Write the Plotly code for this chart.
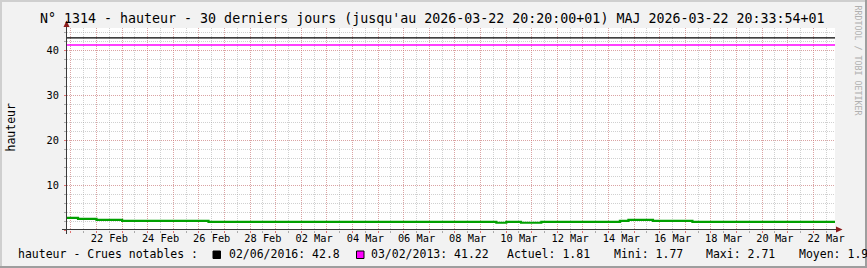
import plotly.graph_objects as go
import pandas as pd

# ---------------- data ----------------
start_time = "2026-02-20 20:20"
end_time = "2026-03-22 20:20"

# water height (hauteur), step changes
times = ["2026-02-20 20:20", "2026-02-21 06:40", "2026-02-22 00:00", "2026-02-23 00:00",
         "2026-02-26 09:00", "2026-03-09 14:50", "2026-03-10 00:10", "2026-03-10 14:00",
         "2026-03-11 09:00", "2026-03-14 10:40", "2026-03-14 18:40", "2026-03-15 17:40",
         "2026-03-17 06:40", "2026-03-22 20:20"]
hauteur = [2.71, 2.48, 2.25, 2.03, 1.81, 1.62, 1.81, 1.62, 1.81, 2.03, 2.25, 2.03, 1.81, 1.81]

crue_2016 = 42.8
crue_2013 = 41.22
actuel, mini, maxi, moyen = "1.81", "1.77", "2.71", "1.9"

label_dates = ["2026-02-22", "2026-02-24", "2026-02-26", "2026-02-28", "2026-03-02",
               "2026-03-04", "2026-03-06", "2026-03-08", "2026-03-10", "2026-03-12",
               "2026-03-14", "2026-03-16", "2026-03-18", "2026-03-20", "2026-03-22"]
label_text = ["22 Feb", "24 Feb", "26 Feb", "28 Feb", "02 Mar", "04 Mar", "06 Mar", "08 Mar",
              "10 Mar", "12 Mar", "14 Mar", "16 Mar", "18 Mar", "20 Mar", "22 Mar"]
y_ticks = [0, 10, 20, 30, 40]
y_ticktext = ["", "10", "20", "30", "40"]

title = "N° 1314 - hauteur - 30 derniers jours (jusqu'au 2026-03-22 20:20:00+01) MAJ 2026-03-22 20:33:54+01"

# ---------------- layout geometry ----------------
FW, FH = 867, 268
L, R, T, B = 67, 835, 28, 230
def px(x):
    return (x - L) / (R - L)
def py(y):
    return (B - y) / (B - T)

MONO = "DejaVu Sans Mono"
grid_days = pd.date_range("2026-02-21", "2026-03-22", freq="D")
label_pos = [pd.Timestamp(d) + pd.Timedelta(hours=12) for d in label_dates]

fig = go.Figure()
fig.add_trace(go.Scatter(x=[start_time, end_time], y=[crue_2016, crue_2016], mode="lines",
                         line=dict(color="#000000", width=1.3), hoverinfo="skip", showlegend=False))
fig.add_trace(go.Scatter(x=[start_time, end_time], y=[crue_2013, crue_2013], mode="lines",
                         line=dict(color="#ff00ff", width=1.5), hoverinfo="skip", showlegend=False))
fig.add_trace(go.Scatter(x=times, y=hauteur, mode="lines", line_shape="hv",
                         line=dict(color="#00a000", width=2.2), showlegend=False))
# carrier trace for the label axis
fig.add_trace(go.Scatter(x=[start_time, end_time], y=[None, None], xaxis="x2", mode="lines",
                         line=dict(width=0), hoverinfo="skip", showlegend=False))

grid_minor = "rgba(150,150,150,0.45)"
grid_major = "rgba(230,100,100,0.42)"

fig.update_layout(
    width=FW, height=FH,
    margin=dict(l=L, r=FW - R, t=T, b=FH - B),
    paper_bgcolor="#f2f2f2", plot_bgcolor="#ffffff",
    showlegend=False,
    xaxis=dict(type="date", range=[start_time, end_time], tickmode="array",
               tickvals=list(grid_days), showticklabels=False,
               showgrid=True, gridcolor=grid_major, griddash="1px,1px", gridwidth=1,
               ticks="outside", ticklen=2, tickcolor="#e07070",
               minor=dict(dtick=43200000, tick0="2026-02-21 00:00", showgrid=True,
                          gridcolor=grid_minor, griddash="1px,1px", gridwidth=1,
                          ticks="outside", ticklen=2, tickcolor="#aaaaaa"),
               showline=False, zeroline=False, fixedrange=True),
    xaxis2=dict(type="date", range=[start_time, end_time], overlaying="x", side="bottom",
                anchor="y", tickmode="array", tickvals=label_pos, ticktext=label_text,
                showgrid=False, ticks="", showline=False, zeroline=False,
                tickfont=dict(family=MONO, size=10.3, color="#000000"),
                ticklabelstandoff=1),
    yaxis=dict(range=[0, 45], tickmode="array", tickvals=y_ticks, ticktext=y_ticktext,
               showgrid=True, gridcolor=grid_major, griddash="1px,1px", gridwidth=1,
               ticks="outside", ticklen=2, tickcolor="#e07070",
               minor=dict(dtick=2, showgrid=True, gridcolor=grid_minor, griddash="1px,1px",
                          gridwidth=1, ticks="outside", ticklen=2, tickcolor="#aaaaaa"),
               tickfont=dict(family=MONO, size=10.3, color="#000000"),
               ticklabelstandoff=3, showline=False, zeroline=False, fixedrange=True),
)

shapes = []
# axis lines
shapes.append(dict(type="line", xref="paper", yref="paper", x0=px(62), x1=px(838), y0=py(229.5), y1=py(229.5),
                   line=dict(color="#3a3a3a", width=1), layer="above"))
shapes.append(dict(type="line", xref="paper", yref="paper", x0=px(66.5), x1=px(66.5), y0=py(234), y1=py(25),
                   line=dict(color="#3a3a3a", width=1), layer="above"))
# arrows
shapes.append(dict(type="path", xref="paper", yref="paper",
                   path=f"M {px(63.5)},{py(27)} L {px(69.5)},{py(27)} L {px(66.5)},{py(20.5)} Z",
                   fillcolor="#8b1a1a", line=dict(width=0), layer="above"))
shapes.append(dict(type="path", xref="paper", yref="paper",
                   path=f"M {px(836)},{py(226.5)} L {px(836)},{py(232.5)} L {px(842.5)},{py(229.5)} Z",
                   fillcolor="#8b1a1a", line=dict(width=0), layer="above"))
# frame shading
shapes.append(dict(type="line", xref="paper", yref="paper", x0=px(0), x1=px(867), y0=py(1), y1=py(1),
                   line=dict(color="#cfcfcf", width=2), layer="above"))
shapes.append(dict(type="line", xref="paper", yref="paper", x0=px(1), x1=px(1), y0=py(0), y1=py(268),
                   line=dict(color="#cfcfcf", width=2), layer="above"))
shapes.append(dict(type="line", xref="paper", yref="paper", x0=px(0), x1=px(867), y0=py(267), y1=py(267),
                   line=dict(color="#9e9e9e", width=2), layer="above"))
shapes.append(dict(type="line", xref="paper", yref="paper", x0=px(866), x1=px(866), y0=py(0), y1=py(268),
                   line=dict(color="#9e9e9e", width=2), layer="above"))
# legend swatches
shapes.append(dict(type="rect", xref="paper", yref="paper", x0=px(213), x1=px(220.5), y0=py(258.5), y1=py(251),
                   fillcolor="#000000", line=dict(color="#000000", width=1)))
shapes.append(dict(type="rect", xref="paper", yref="paper", x0=px(356.5), x1=px(364), y0=py(258.5), y1=py(251),
                   fillcolor="#ff00ff", line=dict(color="#000000", width=1)))
fig.update_layout(shapes=shapes)

ann = []
ann.append(dict(text=title, xref="paper", yref="paper", x=px(432.5), y=py(18.5),
                xanchor="center", yanchor="middle", showarrow=False,
                font=dict(family=MONO, size=13.3, color="#000000")))
ann.append(dict(text="hauteur", xref="paper", yref="paper", x=px(10.5), y=py(127),
                xanchor="center", yanchor="middle", textangle=-90, showarrow=False,
                font=dict(family=MONO, size=11.5, color="#000000")))
ann.append(dict(text="RRDTOOL / TOBI OETIKER", xref="paper", yref="paper", x=px(857.5), y=py(60),
                xanchor="center", yanchor="middle", textangle=90, showarrow=False,
                font=dict(family=MONO, size=8.3, color="#b0b0b0")))
legend_items = [
    ("hauteur - Crues notables :", 16.7),
    (f"02/06/2016: {crue_2016}", 228.3),
    (f"03/02/2013: {crue_2013}", 370),
    (f"Actuel: {actuel}", 505.7),
    (f"Mini: {mini}", 612.7),
    (f"Maxi: {maxi}", 705),
    (f"Moyen: {moyen}", 798.3),
]
for txt, xpos in legend_items:
    ann.append(dict(text=txt, xref="paper", yref="paper", x=px(xpos), y=py(254.5),
                    xanchor="left", yanchor="middle", showarrow=False, borderpad=0,
                    font=dict(family=MONO, size=11.5, color="#000000")))
fig.update_layout(annotations=ann)

fig.write_html("out.html")
